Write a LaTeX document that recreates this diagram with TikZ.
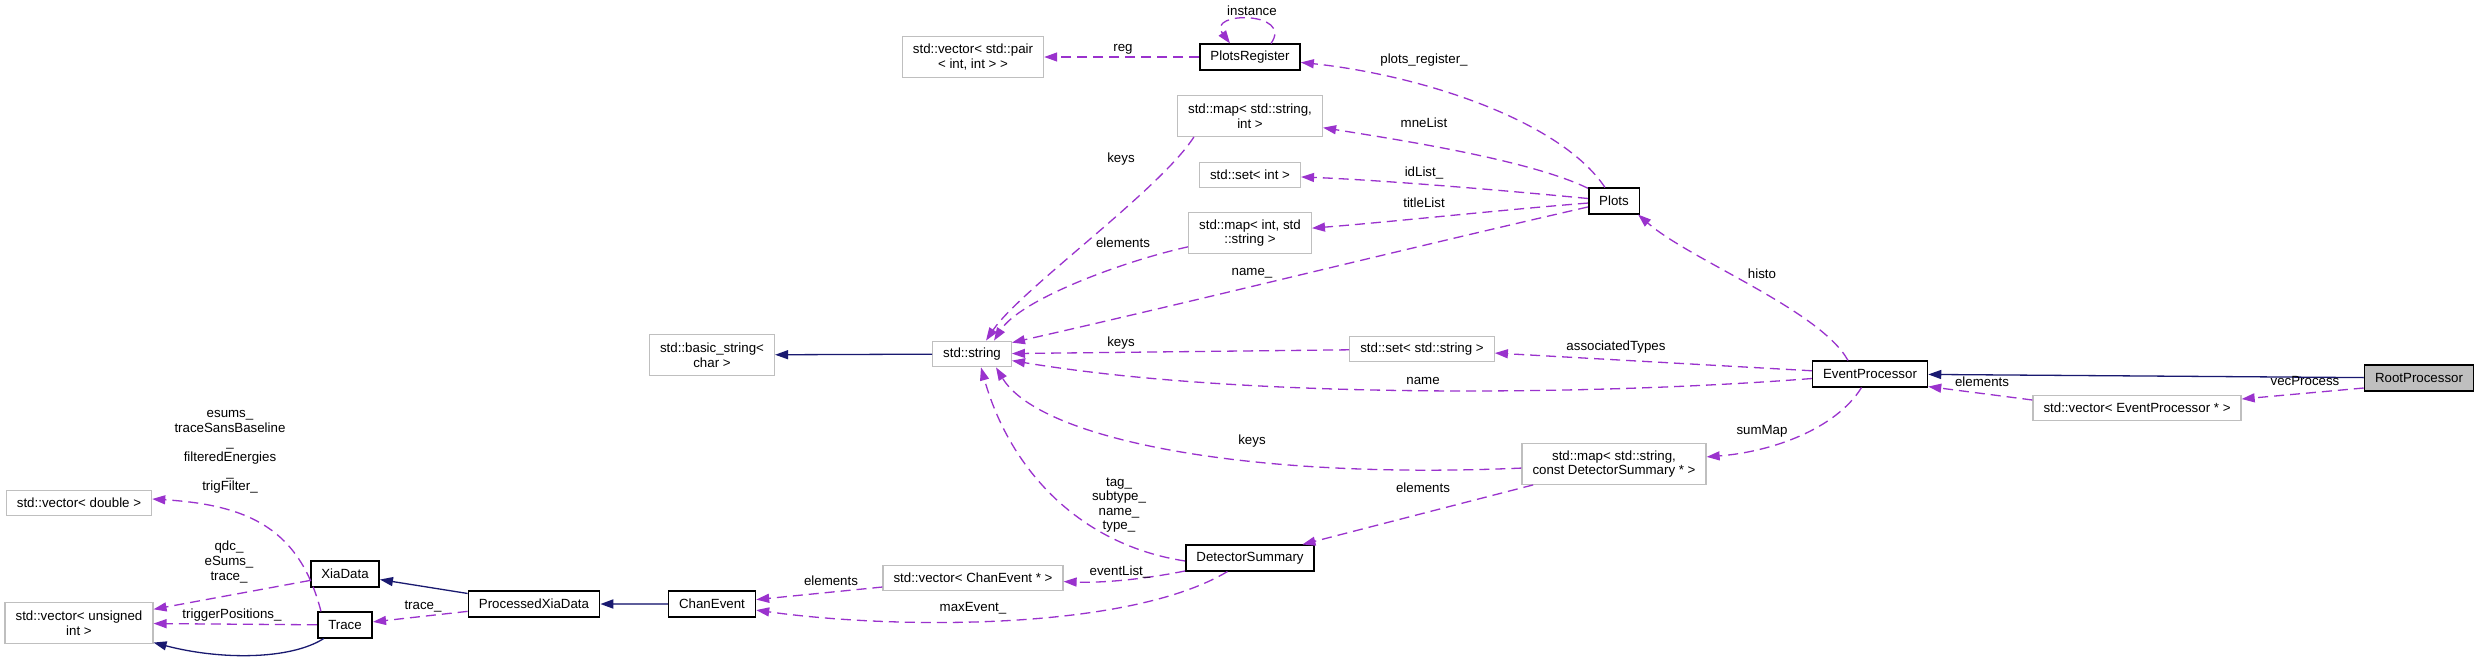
\documentclass[tikz,border=0pt]{standalone}
\usepackage{fontspec}
\setmainfont{Liberation Sans}
\usetikzlibrary{arrows.meta}
\definecolor{edgepurple}{HTML}{9A32CD}
\definecolor{inhblue}{HTML}{191970}
\definecolor{boxgray}{HTML}{BFBFBF}
\begin{document}
\begin{tikzpicture}[x=1pt,y=-1pt,
  font=\fontsize{13.3}{14.6}\selectfont,
  base/.style={rectangle, align=center, inner xsep=10.5pt, inner ysep=2pt, minimum height=25.5pt, fill=white},
  cls/.style={base, draw=black, line width=1.6pt},
  ext/.style={base, draw=boxgray, line width=1.3pt},
  root/.style={base, draw=black, fill=boxgray, line width=1.6pt},
  two/.style={minimum height=40.5pt},
  mem/.style={draw=edgepurple, line width=1.3pt, dash pattern=on 10pt off 6pt, -{Triangle[length=13pt,width=9pt]}},
  inh/.style={draw=inhblue, line width=1.3pt, -{Triangle[length=13pt,width=9pt]}},
  inhlight/.style={draw=inhblue!70!white, line width=1.9pt, -{Triangle[length=13pt,width=9pt,color=inhblue,fill=inhblue]}},
  lbl/.style={inner sep=0pt, align=center},
]
\fill[white] (0,0) rectangle (2479,659);
\useasboundingbox (0,0) rectangle (2479,659);

% nodes
\node[cls] (pr) at (1250,57) {PlotsRegister};
\node[ext,two] (vpair) at (973,57) {std::vector< std::pair\\< int, int > >};
\node[ext,two] (mapsi) at (1250,116) {std::map< std::string,\\int >};
\node[ext] (seti) at (1250,175) {std::set< int >};
\node[ext,two] (mapis) at (1250,233) {std::map< int, std\\::string >};
\node[cls] (plots) at (1614,201) {Plots};
\node[ext] (str) at (972,354) {std::string};
\node[ext,two] (bstr) at (712,355) {std::basic\_string<\\char >};
\node[ext] (sets) at (1422,349) {std::set< std::string >};
\node[cls] (ep) at (1870,374) {EventProcessor};
\node[root] (rp) at (2419,378) {RootProcessor};
\node[ext] (vep) at (2137,408) {std::vector< EventProcessor * >};
\node[ext,two] (mapds) at (1614,464) {std::map< std::string,\\ const DetectorSummary * >};
\node[cls] (ds) at (1250,558) {DetectorSummary};
\node[ext] (vce) at (973,578) {std::vector< ChanEvent * >};
\node[cls] (ce) at (712,604) {ChanEvent};
\node[cls] (pxd) at (534,604) {ProcessedXiaData};
\node[cls] (xd) at (345,574) {XiaData};
\node[cls] (tr) at (345,625) {Trace};
\node[ext] (vd) at (79,503) {std::vector< double >};
\node[ext,two] (vui) at (79,623) {std::vector< unsigned\\int >};

% connectors
\draw[mem] (pr) -- (vpair);
\draw[mem] ([xshift=21pt]pr.north) .. controls (1294,11) and (1206,11) .. ([xshift=-20pt]pr.north);
\draw[mem] (plots) .. controls (1560,120) and (1420,75) .. (pr);
\draw[mem] (plots) .. controls (1530,160) and (1400,140) .. (mapsi);
\draw[mem] (plots) .. controls (1500,190) and (1380,180) .. (seti);
\draw[mem] (plots) .. controls (1500,210) and (1390,222) .. (mapis);
\draw[mem] (plots) .. controls (1400,250) and (1200,300) .. ([yshift=-2pt]str.north east);
\draw[mem] ([xshift=17pt]mapsi.south west) .. controls (1160,190) and (1020,290) .. ([xshift=14pt]str.north);
\draw[mem] (mapis) .. controls (1120,262) and (1020,300) .. ([xshift=22pt]str.north);
\draw[inh] (str) -- (bstr);
\draw[mem] (sets) -- (str);
\draw[mem] (ep) -- (sets);
\draw[mem] (ep) .. controls (1600,395) and (1250,400) .. (str);
\draw[mem] ([xshift=-22pt]ep.north) .. controls (1820,310) and (1690,260) .. ([xshift=-2pt]plots.south east);
\draw[mem] (ep) .. controls (1835,430) and (1770,452) .. (mapds);
\draw[inh] (rp) -- (ep);
\draw[mem] ([yshift=-10pt]rp.west) -- ([yshift=9pt]vep.east);
\draw[mem] ([yshift=8pt]vep.west) -- ([yshift=1pt]ep.south east);
\draw[mem] (mapds) .. controls (1250,480) and (1040,440) .. ([xshift=24pt]str.south);
\draw[mem] (mapds) -- (ds);
\draw[mem] ([yshift=-3pt]ds.west) .. controls (1080,545) and (1010,470) .. ([xshift=9pt]str.south);
\draw[mem] (ds) .. controls (1140,580) and (1100,583) .. (vce);
\draw[mem] (ds) .. controls (1130,630) and (900,630) .. (ce);
\draw[mem] (vce) -- (ce);
\draw[inhlight] (ce) -- (pxd);
\draw[inh] (pxd) -- (xd);
\draw[mem] (pxd) -- (tr);
\draw[mem] (xd) -- (vui);
\draw[mem] ([xshift=-24pt]tr.north) .. controls (300,530) and (250,505) .. ([yshift=4pt]vd.east);
\draw[mem] (tr) -- (vui);
\draw[inh] (tr) .. controls (290,660) and (220,660) .. (vui);

% labels
\node[lbl] (l-instance) at (1252,11) {instance};
\node[lbl] (l-reg) at (1123,49) {reg};
\node[lbl] (l-preg) at (1424,60) {plots\_register\_};
\node[lbl] (l-mne) at (1424,123) {mneList};
\node[lbl] (l-id) at (1424,173) {idList\_};
\node[lbl] (l-title) at (1424,203) {titleList};
\node[lbl] (l-keys1) at (1121,159) {keys};
\node[lbl] (l-elem1) at (1123,243) {elements};
\node[lbl] (l-name1) at (1252,273) {name\_};
\node[lbl] (l-keys2) at (1121,343) {keys};
\node[lbl] (l-assoc) at (1616,347) {associatedTypes};
\node[lbl] (l-name2) at (1423,381) {name};
\node[lbl] (l-histo) at (1762,274) {histo};
\node[lbl] (l-sum) at (1762,431) {sumMap};
\node[lbl] (l-elem2) at (1982,382) {elements};
\node[lbl] (l-vec) at (2305,381) {vecProcess};
\node[lbl] (l-keys3) at (1252,441) {keys};
\node[lbl] (l-elem3) at (1423,488) {elements};
\node[lbl] (l-tag) at (1119,505) {tag\_\\subtype\_\\name\_\\type\_};
\node[lbl] (l-evl) at (1120,572) {eventList\_};
\node[lbl] (l-max) at (973,608) {maxEvent\_};
\node[lbl] (l-elem4) at (831,581) {elements};
\node[lbl] (l-trace) at (423,607) {trace\_};
\node[lbl] (l-qdc) at (229,562) {qdc\_\\eSums\_\\trace\_};
\node[lbl] (l-esums) at (230,452) {esums\_\\traceSansBaseline\\\_\\filteredEnergies\\\_\\trigFilter\_};
\node[lbl] (l-trig) at (232,615) {triggerPositions\_};
\end{tikzpicture}
\end{document}
